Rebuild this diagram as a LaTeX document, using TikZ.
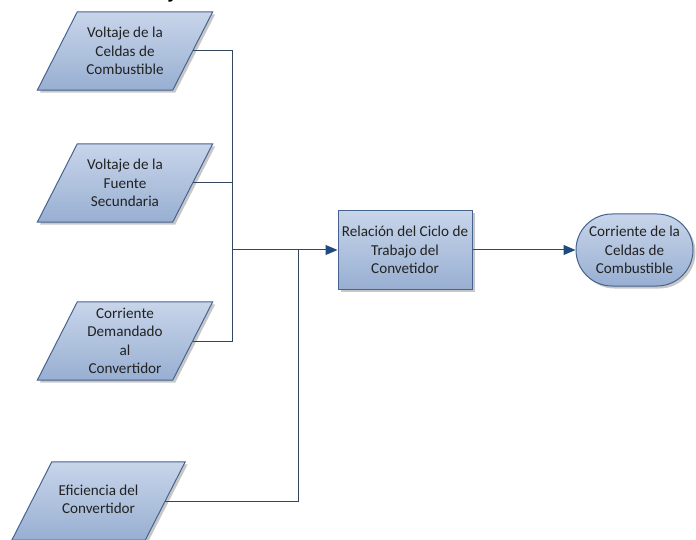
\documentclass[tikz,border=0pt]{standalone}
\usepackage{fontspec}
\setmainfont{Carlito}
\usetikzlibrary{arrows.meta,shadows,shapes.misc,backgrounds,calc}

\definecolor{shapeedge}{HTML}{46638F}
\definecolor{fillhi}{HTML}{C8D5EA}
\definecolor{filllo}{HTML}{98AFD2}
\definecolor{wirecol}{HTML}{34465C}
\definecolor{tipcol}{HTML}{1F4A7D}
\definecolor{txt}{HTML}{222222}

\tikzset{
  boxfont/.style={text=txt, font=\fontsize{15.2}{18.5}\selectfont, align=center},
  softshadow/.style={drop shadow={shadow xshift=2.5bp, shadow yshift=-2.5bp, opacity=0.22, fill=black}},
  bluefill/.style={draw=shapeedge, line width=1bp, top color=fillhi, bottom color=filllo, softshadow},
  inputtext/.style={boxfont, rectangle, inner sep=0pt, minimum width=135bp, minimum height=78bp},
  procbox/.style={boxfont, bluefill, rectangle, inner sep=0pt, minimum width=134bp, minimum height=79bp},
  endcap/.style={boxfont, bluefill, rounded rectangle, inner sep=0pt, minimum width=117bp, minimum height=72bp},
  wire/.style={draw=wirecol, line width=1bp},
  feed/.style={wire, -{Triangle[length=12bp, width=10bp, color=tipcol, fill=tipcol]}}
}

% slanted input/output box drawn behind a named text node
\newcommand{\slantbox}[1]{%
  \begin{pgfonlayer}{background}
    \path[bluefill] ($(#1.north west)+(20,0)$) -- ($(#1.north east)+(20,0)$)
      -- ($(#1.south east)+(-20,0)$) -- ($(#1.south west)+(-20,0)$) -- cycle;
  \end{pgfonlayer}}

\begin{document}
\begin{tikzpicture}[x=1bp, y=-1bp]
  \useasboundingbox (0,0) rectangle (696,540);

  % heading, cut by the top edge
  \begin{scope}
    \clip (0,0) rectangle (696,540);
    \node[anchor=base east, inner sep=0pt, font=\bfseries\fontsize{22}{22}\selectfont] (title) at (186,-1) {Control de Voltaje};
  \end{scope}

  % inputs
  \node[inputtext] (vcel) at (125,51)  {Voltaje de la\\Celdas de\\Combustible};
  \node[inputtext] (vsec) at (125,183) {Voltaje de la\\Fuente\\Secundaria};
  \node[inputtext] (idem) at (125,341) {Corriente\\Demandado\\al\\Convertidor};
  \node[inputtext, minimum width=133bp] (efic) at (98.5,501)
    {\raisebox{10bp}{\begin{tabular}{@{}c@{}}Eficiencia del\\Convertidor\end{tabular}}};
  \slantbox{vcel}
  \slantbox{vsec}
  \slantbox{idem}
  \slantbox{efic}

  % process and result
  \node[procbox] (ciclo) at (405,250) {Relación del Ciclo de\\Trabajo del\\Convetidor};
  \node[endcap] (icel) at (634.5,250) {Corriente de la\\Celdas de\\Combustible};

  % junctions
  \coordinate (busA) at (232,250);
  \coordinate (busB) at (298,250);

  \draw[wire] (vcel.east) -| (busA);
  \draw[wire] (vsec.east) -| (busA);
  \draw[wire] (idem.east) -| (busA);
  \draw[wire] (efic.east) -| (busB);
  \draw[feed] (busA) -- (ciclo.west);
  \draw[feed] (ciclo.east) -- (icel.west);
\end{tikzpicture}
\end{document}
